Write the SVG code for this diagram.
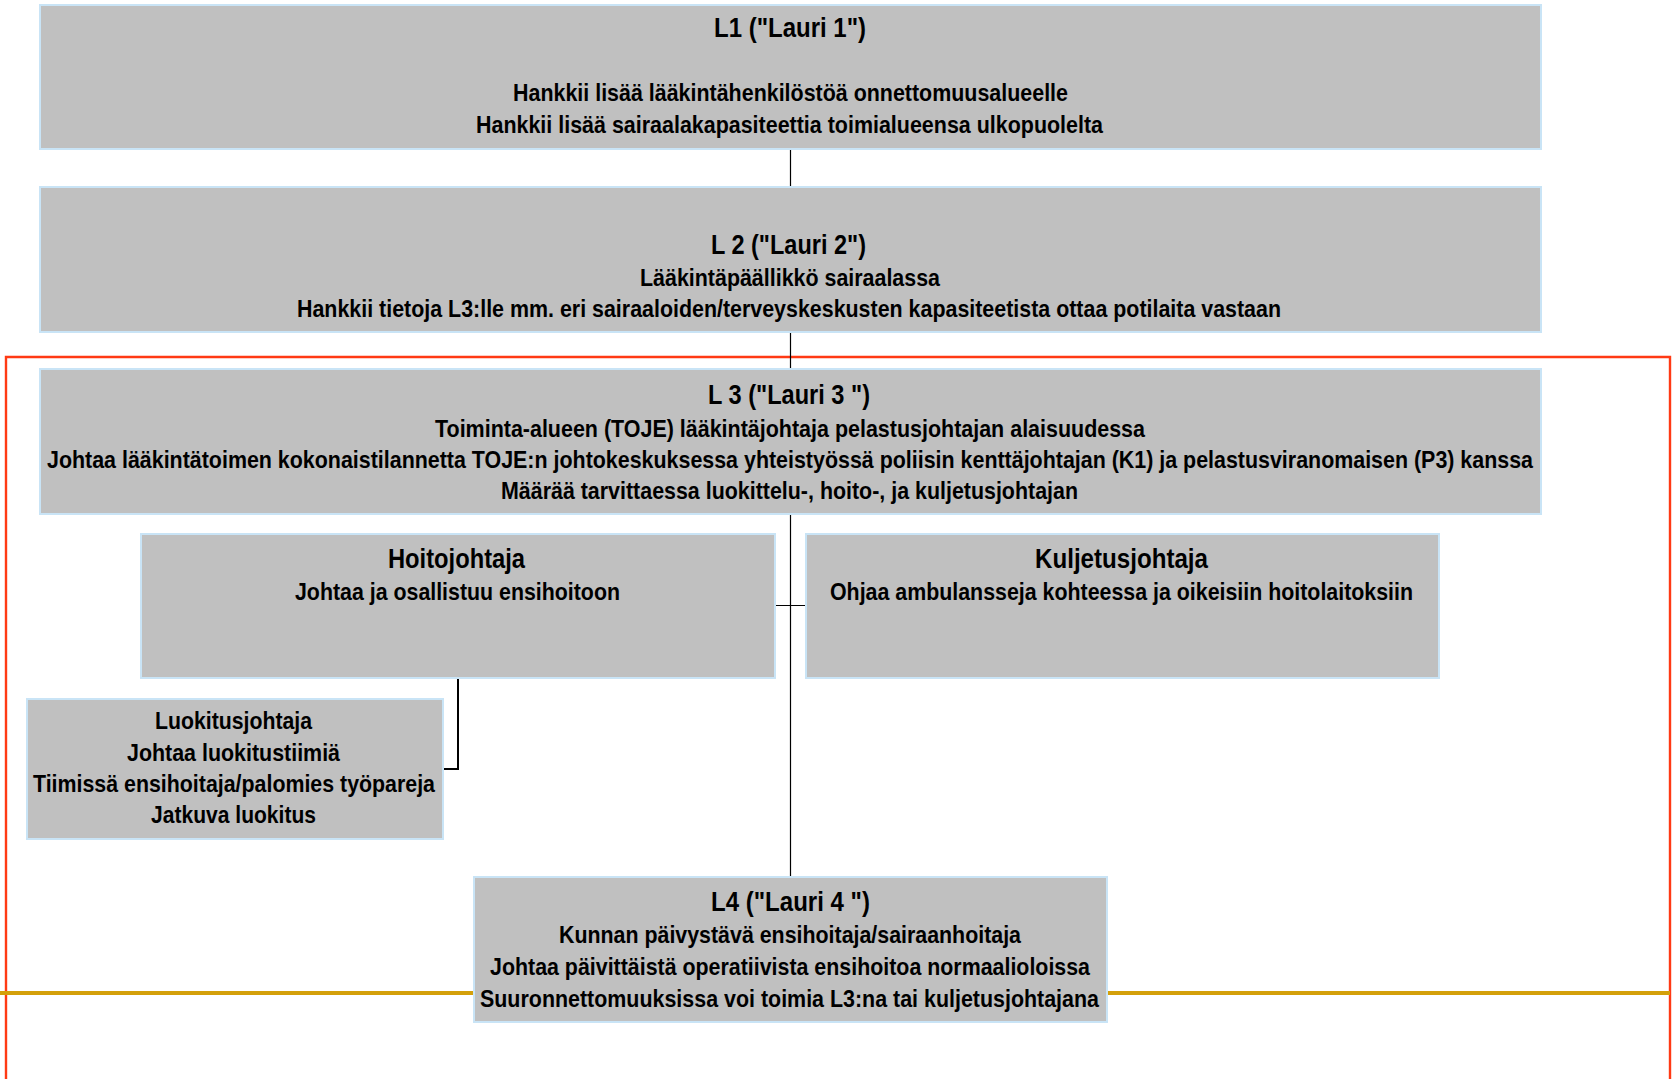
<svg xmlns="http://www.w3.org/2000/svg" width="1674" height="1079" viewBox="0 0 1674 1079">
<style>
.box{fill:#C0C0C0;stroke:#C9E4F6;stroke-width:2}
text{font-family:"Liberation Sans Narrow","Liberation Sans",Arial,sans-serif;font-weight:bold;fill:#000;text-anchor:middle}
.t{font-size:27px}
.b{font-size:24px}
.c{fill:none;stroke:#000;stroke-width:1.2}
</style>
<rect x="0" y="0" width="1674" height="1079" fill="#fff"/>
<g id="frame">
<path d="M6,1082 V357 H1670 V1082" fill="none" stroke="#FF3A14" stroke-width="2.4"/>
<path d="M0,993 H474 M1107,993 H1670" fill="none" stroke="#D4A00A" stroke-width="4"/>
</g>
<g id="connectors">
<path class="c" d="M790.5,149 V187 M790.5,332 V369 M790.5,514 V877 M775,605.5 H806"/>
<path d="M458,678 V769 H443" fill="none" stroke="#000" stroke-width="2"/>
</g>
<g id="L1">
<rect class="box" x="40" y="5" width="1501" height="144"/>
<text class="t" x="790" y="37" textLength="152" lengthAdjust="spacingAndGlyphs">L1 ("Lauri 1")</text>
<text class="b" x="790.5" y="101" textLength="555" lengthAdjust="spacingAndGlyphs">Hankkii lisää lääkintähenkilöstöä onnettomuusalueelle</text>
<text class="b" x="789.5" y="133" textLength="627" lengthAdjust="spacingAndGlyphs">Hankkii lisää sairaalakapasiteettia toimialueensa ulkopuolelta</text>
</g>
<g id="L2">
<rect class="box" x="40" y="187" width="1501" height="145"/>
<text class="t" x="788.5" y="254" textLength="155" lengthAdjust="spacingAndGlyphs">L 2 ("Lauri 2")</text>
<text class="b" x="790" y="286" textLength="300" lengthAdjust="spacingAndGlyphs">Lääkintäpäällikkö sairaalassa</text>
<text class="b" x="789" y="317" textLength="984" lengthAdjust="spacingAndGlyphs">Hankkii tietoja L3:lle mm. eri sairaaloiden/terveyskeskusten kapasiteetista ottaa potilaita vastaan</text>
</g>
<g id="L3">
<rect class="box" x="40" y="369" width="1501" height="145"/>
<text class="t" x="789" y="404" textLength="162" lengthAdjust="spacingAndGlyphs">L 3 ("Lauri 3 ")</text>
<text class="b" x="790" y="437" textLength="710" lengthAdjust="spacingAndGlyphs">Toiminta-alueen (TOJE) lääkintäjohtaja pelastusjohtajan alaisuudessa</text>
<text class="b" x="790" y="468" textLength="1486" lengthAdjust="spacingAndGlyphs">Johtaa lääkintätoimen kokonaistilannetta TOJE:n johtokeskuksessa yhteistyössä poliisin kenttäjohtajan (K1) ja pelastusviranomaisen (P3) kanssa</text>
<text class="b" x="789.5" y="499" textLength="577" lengthAdjust="spacingAndGlyphs">Määrää tarvittaessa luokittelu-, hoito-, ja kuljetusjohtajan</text>
</g>
<g id="Hoitojohtaja">
<rect class="box" x="141" y="534" width="634" height="144"/>
<text class="t" x="456.5" y="568" textLength="137" lengthAdjust="spacingAndGlyphs">Hoitojohtaja</text>
<text class="b" x="457.5" y="600" textLength="325" lengthAdjust="spacingAndGlyphs">Johtaa ja osallistuu ensihoitoon</text>
</g>
<g id="Kuljetusjohtaja">
<rect class="box" x="806" y="534" width="633" height="144"/>
<text class="t" x="1121.5" y="568" textLength="173" lengthAdjust="spacingAndGlyphs">Kuljetusjohtaja</text>
<text class="b" x="1121.5" y="600" textLength="583" lengthAdjust="spacingAndGlyphs">Ohjaa ambulansseja kohteessa ja oikeisiin hoitolaitoksiin</text>
</g>
<g id="Luokitusjohtaja">
<rect class="box" x="27" y="699" width="416" height="140"/>
<text class="b" x="233.5" y="729" textLength="157" lengthAdjust="spacingAndGlyphs">Luokitusjohtaja</text>
<text class="b" x="233.5" y="761" textLength="213" lengthAdjust="spacingAndGlyphs">Johtaa luokitustiimiä</text>
<text class="b" x="234" y="792" textLength="402" lengthAdjust="spacingAndGlyphs">Tiimissä ensihoitaja/palomies työpareja</text>
<text class="b" x="233.5" y="823" textLength="165" lengthAdjust="spacingAndGlyphs">Jatkuva luokitus</text>
</g>
<g id="L4">
<rect class="box" x="474" y="877" width="633" height="145"/>
<text class="t" x="790.5" y="911" textLength="159" lengthAdjust="spacingAndGlyphs">L4 ("Lauri 4 ")</text>
<text class="b" x="790" y="943" textLength="462" lengthAdjust="spacingAndGlyphs">Kunnan päivystävä ensihoitaja/sairaanhoitaja</text>
<text class="b" x="790" y="975" textLength="600" lengthAdjust="spacingAndGlyphs">Johtaa päivittäistä operatiivista ensihoitoa normaalioloissa</text>
<text class="b" x="789.5" y="1007" textLength="619" lengthAdjust="spacingAndGlyphs">Suuronnettomuuksissa voi toimia L3:na tai kuljetusjohtajana</text>
</g>
</svg>
